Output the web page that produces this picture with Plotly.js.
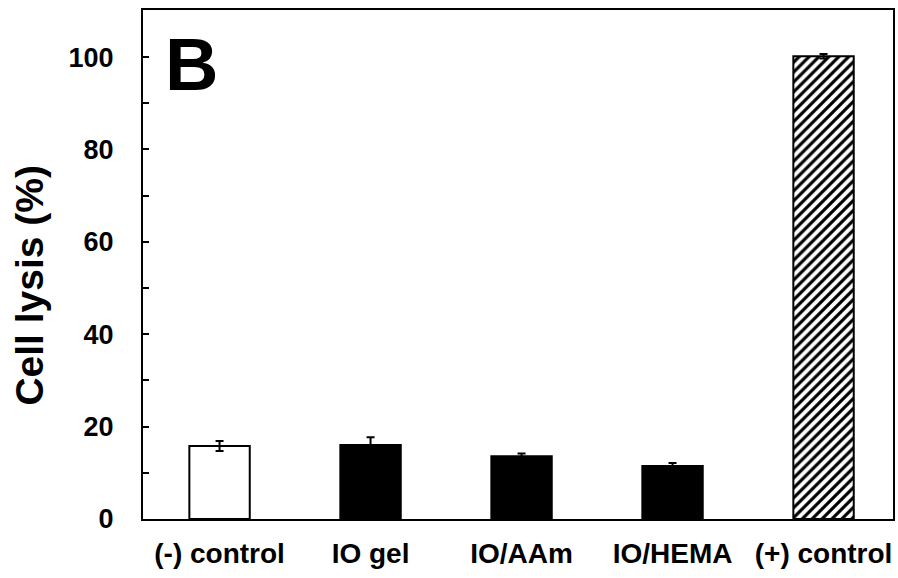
<!DOCTYPE html>
<html>
<head>
<meta charset="utf-8">
<script src="https://cdn.plot.ly/plotly-3.0.1.min.js"></script>
<style>html,body{margin:0;padding:0;background:#fff;}#chart{width:898px;height:578px;}</style>
</head>
<body>
<div id="chart"></div>
<script>
const categories = ["(-) control", "IO gel", "IO/AAm", "IO/HEMA", "(+) control"];
const lysis = [15.8, 16.0, 13.6, 11.5, 100.2];
const errors = [1.1, 1.7, 0.6, 0.6, 0.5];
const fillColors = ["#ffffff", "#000000", "#000000", "#000000"];
const yTicks = [0, 20, 40, 60, 80, 100];

const FONT = "Liberation Sans, Arial, sans-serif";

const solidTrace = {
  type: "bar",
  x: categories.slice(0, 4),
  y: lysis.slice(0, 4),
  width: 0.4,
  marker: {color: fillColors, line: {color: "#000", width: 2}},
  error_y: {type: "data", array: errors.slice(0, 4), visible: true, color: "#000", thickness: 2, width: 4},
  hoverinfo: "skip"
};

const hatchTrace = {
  type: "bar",
  x: categories.slice(4),
  y: lysis.slice(4),
  width: 0.4,
  marker: {
    color: "#ffffff",
    line: {color: "#000", width: 2},
    pattern: {shape: "/", fgcolor: "#000", fgopacity: 1, bgcolor: "#fff", size: 7, solidity: 0.45, fillmode: "overlay"}
  },
  error_y: {type: "data", array: errors.slice(4), visible: true, color: "#000", thickness: 2, width: 4},
  hoverinfo: "skip"
};

const layout = {
  width: 898, height: 578,
  margin: {l: 143, r: 5, t: 10, b: 59},
  paper_bgcolor: "#fff", plot_bgcolor: "#fff",
  showlegend: false,
  barmode: "overlay",
  font: {family: FONT, color: "#000"},
  xaxis: {
    type: "category",
    categoryorder: "array", categoryarray: categories,
    range: [-0.507, 4.46],
    showline: true, linecolor: "#000", linewidth: 2, mirror: true,
    ticks: "", showgrid: false, zeroline: false,
    tickfont: {size: 28, family: FONT, weight: "bold"},
    ticklabelstandoff: 8
  },
  yaxis: {
    range: [0, 110.2],
    showline: true, linecolor: "#000", linewidth: 2, mirror: true,
    ticks: "inside", ticklen: 6, tickwidth: 2, tickcolor: "#000",
    tickvals: yTicks, ticktext: yTicks.map(String),
    minor: {ticks: "inside", ticklen: 6, tickwidth: 2, tickcolor: "#000", dtick: 10, tick0: 0},
    showgrid: false, zeroline: false,
    tickfont: {size: 27, family: FONT, weight: "bold"},
    ticklabelstandoff: 22
  },
  annotations: [
    {
      text: "B", xref: "paper", yref: "paper", x: 0.027, y: 0.892,
      xanchor: "left", yanchor: "middle", showarrow: false,
      font: {size: 74, family: FONT, weight: "bold", color: "#000"}
    },
    {
      text: "Cell lysis (%)", xref: "paper", yref: "paper", x: -0.151, y: 0.46,
      xanchor: "center", yanchor: "middle", textangle: -90, showarrow: false,
      font: {size: 39, family: FONT, weight: "bold", color: "#000"}
    }
  ]
};

Plotly.newPlot("chart", [solidTrace, hatchTrace], layout, {displayModeBar: false, staticPlot: true});
</script>
</body>
</html>
